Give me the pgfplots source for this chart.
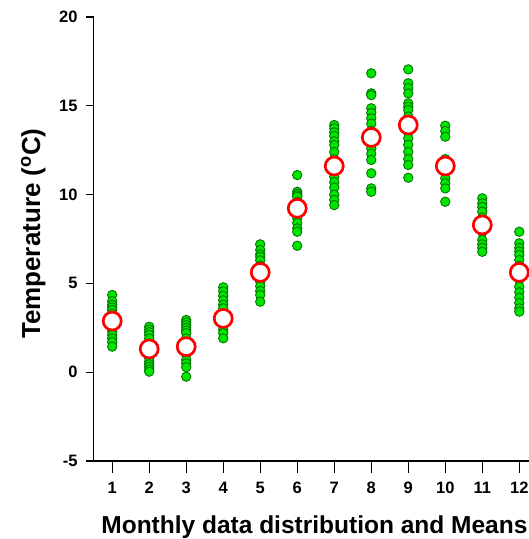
\documentclass[border=0pt]{standalone}
\usepackage{fontspec}
\setmainfont{Liberation Sans}
\usepackage{pgfplots}
\pgfplotsset{compat=1.18}
\definecolor{ptfill}{RGB}{0,230,0}
\definecolor{ptedge}{RGB}{0,120,0}
\begin{document}
\begin{tikzpicture}[x=1pt,y=1pt]
\begin{axis}[
  at={(0,0)}, anchor=south west, name=ax,
  scale only axis, width=444.1pt, height=444pt,
  xmin=0.5, xmax=12.5, ymin=-5, ymax=20,
  axis x line*=bottom, axis y line*=left,
  axis line style={line width=1.3pt, black},
  xtick={1,...,12}, ytick={-5,0,5,10,15,20},
  tick align=outside,
  major tick length=7.7pt,
  tick style={line width=1.3pt, black},
  xtick style={/pgfplots/major tick length=11.7pt},
  /pgf/number format/assume math mode=true,
  ticklabel style={font=\fontsize{16.5}{16.5}\selectfont\bfseries},
  xticklabel style={yshift=-10pt},
  yticklabel style={xshift=-5pt},
  xlabel={Monthly data distribution and Means},
  ylabel={Temperature (\textsuperscript{o}C)},
  xlabel style={at={(axis description cs:0.497,-0.1628)}, anchor=base, font=\fontsize{24.5}{24.5}\selectfont\bfseries},
  ylabel style={at={(axis description cs:-0.1360,0.512)}, anchor=center, font=\fontsize{26}{26}\selectfont\bfseries},
]
\addplot[only marks, mark=*, mark size=4.7pt, mark options={fill=ptfill, draw=ptedge, line width=0.9pt}] table {
x y
1 4.35
1 4.0
1 3.8
1 3.65
1 3.5
1 3.3
1 3.1
1 2.9
1 2.7
1 2.5
1 2.3
1 2.1
1 1.9
1 1.7
1 1.44
2 2.56
2 2.4
2 2.25
2 2.1
2 1.9
2 1.6
2 1.4
2 1.2
2 1.0
2 0.8
2 0.6
2 0.45
2 0.3
2 0.15
2 0.03
3 2.94
3 2.8
3 2.65
3 2.5
3 2.35
3 2.2
3 1.9
3 1.6
3 1.3
3 1.0
3 0.7
3 0.5
3 0.29
3 -0.25
4 4.78
4 4.55
4 4.3
4 4.05
4 3.8
4 3.6
4 3.3
4 3.0
4 2.8
4 2.6
4 2.4
4 2.2
4 1.91
5 7.2
5 6.88
5 6.64
5 6.5
5 6.3
5 6.0
5 5.7
5 5.4
5 5.1
5 4.85
5 4.57
5 4.35
5 3.97
6 11.1
6 10.16
6 10.05
6 9.95
6 9.88
6 9.6
6 9.3
6 9.0
6 8.67
6 8.4
6 8.1
6 7.91
6 7.12
7 13.92
7 13.73
7 13.5
7 13.3
7 13.0
7 12.79
7 12.4
7 12.0
7 11.6
7 11.0
7 10.7
7 10.4
7 10.0
7 9.7
7 9.41
8 16.83
8 15.7
8 15.6
8 14.86
8 14.6
8 14.3
8 14.0
8 13.6
8 13.2
8 12.6
8 12.3
8 11.95
8 11.2
8 10.35
8 10.16
9 17.05
9 16.27
9 16.0
9 15.7
9 15.14
9 14.95
9 14.76
9 14.4
9 13.9
9 13.5
9 13.17
9 12.8
9 12.4
9 12.0
9 11.67
9 10.95
10 13.88
10 13.58
10 13.26
10 12.0
10 11.5
10 10.92
10 10.64
10 10.35
10 9.6
11 9.79
11 9.51
11 9.3
11 9.04
11 8.7
11 8.3
11 7.9
11 7.44
11 7.2
11 7.0
11 6.78
12 7.91
12 7.26
12 7.0
12 6.8
12 6.6
12 6.32
12 6.0
12 5.6
12 5.2
12 4.81
12 4.5
12 4.2
12 3.9
12 3.6
12 3.41
};
\addplot[only marks, mark=*, mark size=9pt, mark options={fill=white, draw=red, line width=2.7pt}] table {
x y
1 2.88
2 1.31
3 1.44
4 3.03
5 5.62
6 9.23
7 11.61
8 13.22
9 13.92
10 11.61
11 8.29
12 5.62
};
\end{axis}
\pgfresetboundingbox
\path[use as bounding box] (-93.7,-78) rectangle (435.3,461);
\end{tikzpicture}
\end{document}
